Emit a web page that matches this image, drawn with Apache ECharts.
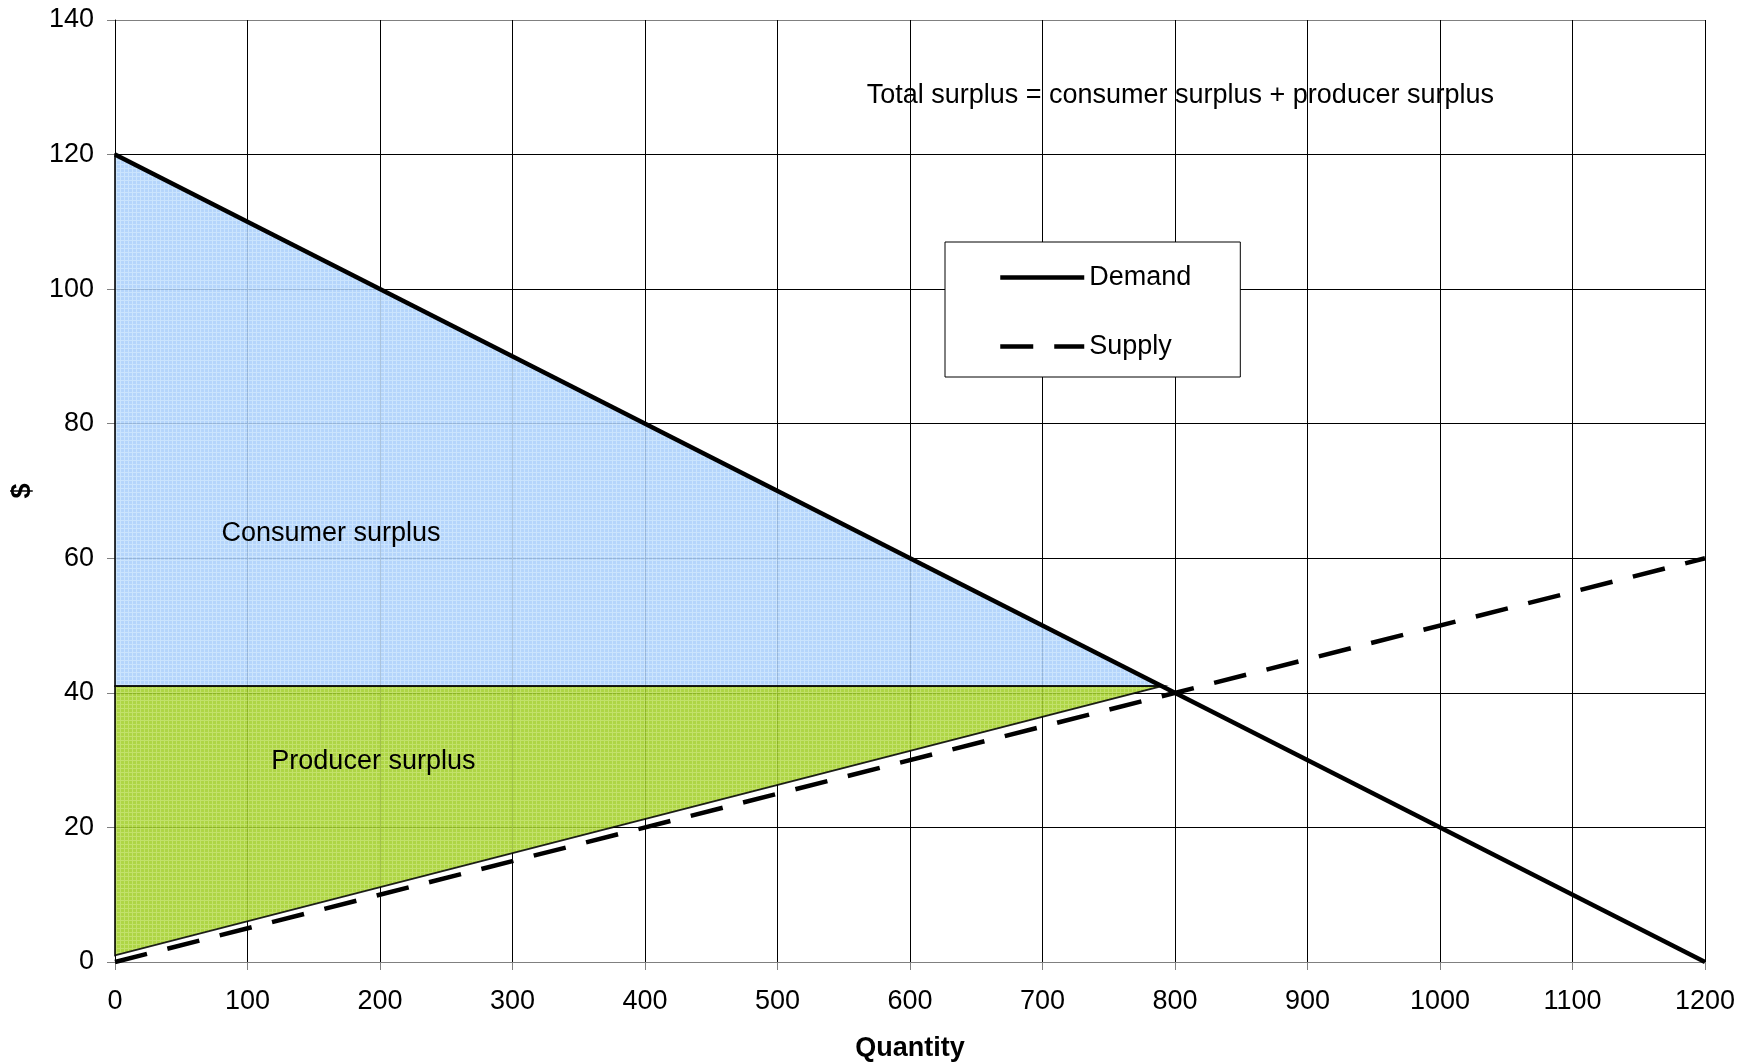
<!DOCTYPE html>
<html>
<head>
<meta charset="utf-8">
<title>Consumer and producer surplus</title>
<script src="https://cdn.jsdelivr.net/npm/echarts@6/dist/echarts.min.js"></script>
<style>
  html, body { margin: 0; padding: 0; background: #fff; }
  #chart { width: 1753px; height: 1064px; }
</style>
</head>
<body>
<div id="chart"></div>
<script>
// Demand and supply curves (quantity, price)
const demandQ = [0, 1200];
const demandP = [120, 0];
const supplyQ = [0, 1200];
const supplyP = [0, 60];

// Shaded surplus regions (polygon vertices)
const consumerQ = [0, 790, 0];
const consumerP = [120, 41, 41];
const producerQ = [0, 790, 0];
const producerP = [41, 41, 1];

// Text notes placed in data space
const noteText = ['Consumer surplus', 'Producer surplus', 'Total surplus = consumer surplus + producer surplus'];
const noteQ = [163, 195, 804];
const noteP = [63.7, 29.8, 128.8];

// Axis ticks
const qTicks = [0, 100, 200, 300, 400, 500, 600, 700, 800, 900, 1000, 1100, 1200];
const pTicks = [0, 20, 40, 60, 80, 100, 120, 140];

const FONT = "'Liberation Sans', Arial, sans-serif";
const FS = 27;

// Fine check texture used by the shaded areas
function texture(base, light) {
  const c = document.createElement('canvas');
  c.width = 4; c.height = 4;
  const g = c.getContext('2d');
  g.fillStyle = base;
  g.fillRect(0, 0, 4, 4);
  g.fillStyle = light;
  g.fillRect(0, 0, 4, 1);
  g.fillRect(0, 0, 1, 4);
  return { image: c, repeat: 'repeat' };
}

function polygonSeries(name, qs, ps, fill) {
  return {
    name: name,
    type: 'custom',
    coordinateSystem: 'cartesian2d',
    data: [[qs[0], ps[0]]],
    z: 1,
    silent: true,
    renderItem: function (params, api) {
      const pts = qs.map(function (q, i) { return api.coord([q, ps[i]]); });
      return {
        type: 'polygon',
        shape: { points: pts },
        style: { fill: fill, stroke: '#000', lineWidth: 1.8, opacity: 0.87 }
      };
    }
  };
}

const chart = echarts.init(document.getElementById('chart'), null, { renderer: 'canvas' });

const ySplitColors = pTicks.map(function (v, i) {
  return (i === 0 || i === pTicks.length - 1) ? '#808080' : '#000';
});

chart.setOption({
  animation: false,
  backgroundColor: '#fff',
  textStyle: { fontFamily: FONT },
  grid: { left: 115, right: 48, top: 20, bottom: 102, containLabel: false, outerBoundsMode: 'none' },
  xAxis: {
    type: 'value',
    min: qTicks[0],
    max: qTicks[qTicks.length - 1],
    interval: qTicks[1] - qTicks[0],
    name: 'Quantity',
    nameLocation: 'middle',
    nameGap: 73,
    nameTextStyle: { fontSize: FS, fontWeight: 'bold', color: '#000', fontFamily: FONT },
    axisLine: { show: true, lineStyle: { color: '#808080', width: 1 } },
    axisTick: { show: true, length: 8, inside: false, lineStyle: { color: '#808080' } },
    axisLabel: { fontSize: FS, color: '#000', margin: 26, fontFamily: FONT,
      formatter: function (v) { return String(v); } },
    splitLine: { show: true, lineStyle: { color: '#000', width: 1 } }
  },
  yAxis: {
    type: 'value',
    min: pTicks[0],
    max: pTicks[pTicks.length - 1],
    interval: pTicks[1] - pTicks[0],
    name: '$',
    nameLocation: 'middle',
    nameGap: 79,
    nameRotate: 90,
    nameTextStyle: { fontSize: FS, fontWeight: 'bold', color: '#000', fontFamily: FONT },
    axisLine: { show: true, lineStyle: { color: '#000', width: 1 } },
    axisTick: { show: true, length: 8, inside: false, lineStyle: { color: '#808080' } },
    axisLabel: { fontSize: FS, color: '#000', margin: 21, fontFamily: FONT },
    splitLine: { show: true, lineStyle: { color: ySplitColors, width: 1 } }
  },
  legend: {
    data: ['Demand', 'Supply'],
    orient: 'vertical',
    left: 945,
    top: 242,
    padding: [22, 49, 17, 53],
    itemWidth: 84,
    itemHeight: 14,
    itemGap: 42,
    backgroundColor: '#fff',
    borderColor: '#000',
    borderWidth: 1,
    borderRadius: 0,
    itemStyle: { opacity: 0 },
    lineStyle: { width: 4.5, color: '#000', cap: 'butt' },
    textStyle: { fontSize: FS, color: '#000', fontFamily: FONT },
    selectedMode: false
  },
  series: [
    polygonSeries('Consumer surplus', consumerQ, consumerP, texture('#aacffb', '#c4e0fd')),
    polygonSeries('Producer surplus', producerQ, producerP, texture('#a2cf2a', '#b9dd55')),
    {
      name: 'Demand',
      type: 'line',
      data: demandQ.map(function (q, i) { return [q, demandP[i]]; }),
      symbol: 'none',
      z: 3,
      lineStyle: { color: '#000', width: 4.5, cap: 'butt' },
      itemStyle: { color: '#000' }
    },
    {
      name: 'Supply',
      type: 'line',
      data: supplyQ.map(function (q, i) { return [q, supplyP[i]]; }),
      symbol: 'none',
      z: 3,
      lineStyle: { color: '#000', width: 4.5, type: [33, 21], cap: 'butt' },
      itemStyle: { color: '#000' }
    },
    {
      name: 'notes',
      type: 'scatter',
      data: noteQ.map(function (q, i) { return [q, noteP[i], noteText[i]]; }),
      symbolSize: 0,
      silent: true,
      z: 4,
      itemStyle: { opacity: 1 },
      label: {
        show: true,
        position: 'inside',
        formatter: function (p) { return p.value[2]; },
        fontSize: FS,
        color: '#000',
        opacity: 1,
        fontFamily: FONT
      }
    }
  ]
});
</script>
</body>
</html>
